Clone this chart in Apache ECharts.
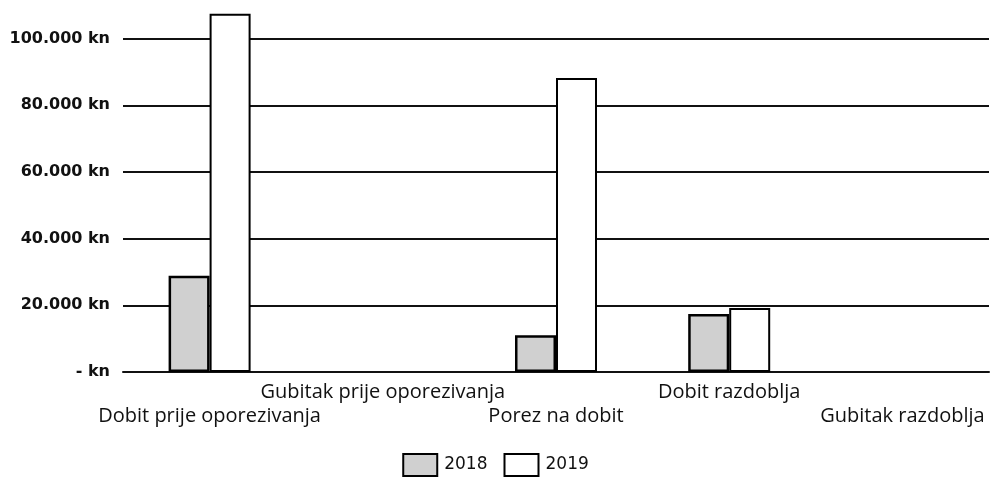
<!DOCTYPE html>
<html>
<head>
<meta charset="utf-8">
<script src="https://cdn.jsdelivr.net/npm/echarts@6/dist/echarts.min.js"></script>
<style>
  html, body { margin: 0; padding: 0; background: #fff; }
  body { position: relative; width: 991px; height: 477px; overflow: hidden; }
  /* graf je odrezan na vrhu, kao u izvorniku */
  #chart { position: absolute; left: 0; top: -28px; width: 991px; height: 505px; }
</style>
</head>
<body>
<div id="chart"></div>
<script>
// podaci
const categories = [
  "Dobit prije oporezivanja",
  "Gubitak prije oporezivanja",
  "Porez na dobit",
  "Dobit razdoblja",
  "Gubitak razdoblja"
];
const years = ["2018", "2019"];
const values2018 = [28900, null, 11000, 17400, null];
const values2019 = [107500, null, 88200, 19200, null];

function kn(value) {
  if (value === 0) return "- kn";
  return String(value).replace(/\B(?=(\d{3})+(?!\d))/g, ".") + " kn";
}

const chart = echarts.init(document.getElementById("chart"));
chart.setOption({
  animation: false,
  grid: { left: 123, right: 2, top: 0, bottom: 105, containLabel: false, outerBoundsMode: "none" },
  legend: {
    top: 476,
    left: "center",
    icon: "rect",
    itemWidth: 34,
    itemHeight: 22,
    itemGap: 16,
    textStyle: { fontFamily: "DejaVu Sans", fontSize: 17, color: "#111", padding: [0, 0, 0, 2] },
    data: years
  },
  xAxis: {
    type: "category",
    data: categories,
    axisLine: { lineStyle: { color: "#111", width: 2 } },
    axisTick: { show: false },
    axisLabel: {
      interval: 0,
      margin: 8,
      fontFamily: "Open Sans",
      fontSize: 20,
      color: "#111",
      lineHeight: 24,
      // naizmjenicno u dva reda
      formatter: (value, index) => (index % 2 === 0 ? "\n" + value : value + "\n")
    }
  },
  yAxis: {
    type: "value",
    min: 0,
    max: 120000,
    interval: 20000,
    axisLine: { show: false },
    axisTick: { show: false },
    splitLine: { lineStyle: { color: "#111", width: 2 } },
    axisLabel: {
      margin: 13,
      fontFamily: "DejaVu Sans",
      fontWeight: "bold",
      fontSize: 16,
      color: "#111",
      formatter: kn
    }
  },
  series: [
    {
      name: "2018",
      type: "bar",
      data: values2018,
      barWidth: 41,
      barGap: "0%",
      itemStyle: { color: "#d0d0d0", borderColor: "#000", borderWidth: 2.5 }
    },
    {
      name: "2019",
      type: "bar",
      data: values2019,
      barWidth: 41,
      itemStyle: { color: "#fff", borderColor: "#000", borderWidth: 2 }
    }
  ]
});
</script>
</body>
</html>
